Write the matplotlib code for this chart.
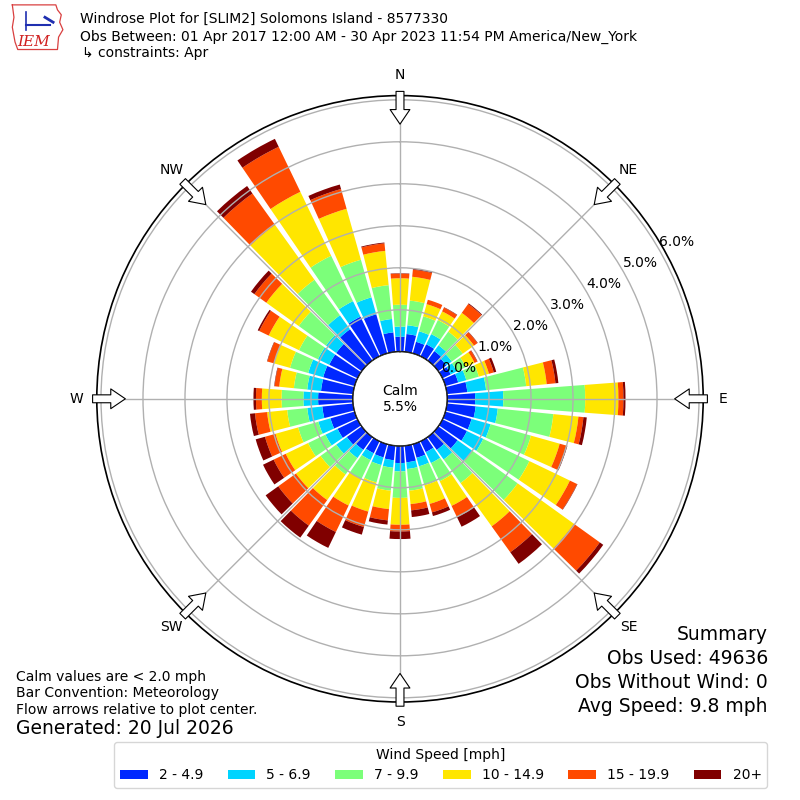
import numpy as np
import matplotlib
matplotlib.use("Agg")
import matplotlib.pyplot as plt
from matplotlib.patches import Patch

# ---------------- data (percent of observations) ----------------
directions = np.arange(0, 360, 10)
speed_labels = ["2 - 4.9", "5 - 6.9", "7 - 9.9", "10 - 14.9", "15 - 19.9", "20+"]
colors = ["#0028ff", "#00d4ff", "#7cff7a", "#ffe600", "#ff4a00", "#800000"]

pct_2_5 = [0.36, 0.43, 0.29, 0.32, 0.28, 0.24, 0.22, 0.32, 0.49, 0.67, 0.69, 0.65,
           0.65, 0.57, 0.38, 0.29, 0.34, 0.40, 0.41, 0.35, 0.33, 0.32, 0.38, 0.44,
           0.53, 0.60, 0.74, 0.83, 0.77, 0.78, 0.75, 0.75, 0.92, 1.05, 0.97, 0.47]
pct_5_7 = [0.24, 0.21, 0.26, 0.27, 0.17, 0.16, 0.16, 0.20, 0.45, 0.67, 0.53, 0.47,
           0.43, 0.43, 0.28, 0.29, 0.21, 0.16, 0.20, 0.18, 0.19, 0.18, 0.24, 0.31,
           0.32, 0.30, 0.36, 0.35, 0.33, 0.37, 0.30, 0.30, 0.41, 0.41, 0.42, 0.32]
pct_7_10 = [0.52, 0.59, 0.37, 0.37, 0.40, 0.32, 0.24, 0.31, 0.96, 1.95, 1.33, 1.00,
            1.22, 1.33, 0.69, 0.48, 0.47, 0.52, 0.63, 0.55, 0.43, 0.50, 0.48, 0.46,
            0.46, 0.50, 0.48, 0.52, 0.32, 0.45, 0.50, 0.80, 1.04, 1.20, 0.93, 0.81]
pct_10_15 = [0.63, 0.57, 0.30, 0.23, 0.55, 0.33, 0.23, 0.25, 0.49, 0.79, 0.60, 0.71,
             1.07, 1.65, 1.27, 0.65, 0.46, 0.32, 0.64, 0.44, 0.72, 0.70, 0.75, 0.72,
             0.59, 0.56, 0.48, 0.47, 0.35, 0.40, 0.80, 0.95, 1.61, 1.69, 1.26, 0.82]
pct_15_20 = [0.11, 0.17, 0.11, 0.10, 0.26, 0.10, 0.07, 0.12, 0.21, 0.12, 0.12, 0.17,
             0.19, 0.76, 0.76, 0.30, 0.21, 0.15, 0.16, 0.27, 0.38, 0.70, 0.75, 0.52,
             0.32, 0.26, 0.29, 0.14, 0.11, 0.16, 0.25, 0.35, 0.92, 1.19, 0.49, 0.18]
pct_20_up = [0.01, 0.02, 0.00, 0.01, 0.02, 0.01, 0.01, 0.06, 0.07, 0.05, 0.08, 0.02,
             0.01, 0.10, 0.34, 0.25, 0.09, 0.16, 0.18, 0.10, 0.19, 0.42, 0.35, 0.37,
             0.28, 0.23, 0.12, 0.06, 0.01, 0.01, 0.04, 0.10, 0.22, 0.21, 0.11, 0.02]
series = [pct_2_5, pct_5_7, pct_7_10, pct_10_15, pct_15_20, pct_20_up]

calm_pct = 5.5
radial_ticks = [0, 1, 2, 3, 4, 5, 6]
compass_angles = [0, 45, 90, 135, 180, 225, 270, 315]
compass_labels = ["N", "NE", "E", "SE", "S", "SW", "W", "NW"]

# ---------------- figure ----------------
fig = plt.figure(figsize=(8, 8), dpi=100)
ax = fig.add_axes([0.121, 0.1225, 0.758, 0.758], projection="polar")
ax.set_theta_zero_location("N")
ax.set_theta_direction(-1)

theta = np.deg2rad(directions)
bottom = np.zeros(len(directions))
for vals, col, lab in zip(series, colors, speed_labels):
    vals = np.asarray(vals)
    ax.bar(theta, vals, width=np.deg2rad(8.6), bottom=bottom, color=col,
           label=lab, linewidth=0, zorder=1)
    bottom = bottom + vals

ax.set_ylim(0, 6.1)
ax.set_rorigin(-1.12)
ax.set_axisbelow(False)
ax.set_yticks(radial_ticks)
ax.set_yticklabels([f"{v:.1f}%" for v in radial_ticks], fontsize=10)
ax.set_rlabel_position(60)
ax.set_xticks(np.deg2rad(compass_angles))
ax.set_xticklabels(compass_labels, fontsize=10)
ax.tick_params(axis="x", pad=4)
ax.grid(True, color="#b0b0b0", linewidth=1)
ax.spines["polar"].set_linewidth(1.2)

# calm circle edge
circ = np.linspace(0, 2 * np.pi, 400)
ax.plot(circ, np.zeros_like(circ), color="black", linewidth=1.2, zorder=4)
ax.text(0, -1.12, f"Calm\n{calm_pct:.1f}%", ha="center", va="center",
        fontsize=10, zorder=5)

# flow arrows pointing toward the center
for ang in compass_angles:
    ax.annotate("", xy=(np.deg2rad(ang), 5.42), xytext=(np.deg2rad(ang), 6.2),
                arrowprops=dict(arrowstyle="simple,head_length=0.7,head_width=0.95,tail_width=0.38",
                                fc="white", ec="black", lw=0.8, shrinkA=0, shrinkB=0,
                                mutation_scale=15),
                annotation_clip=False, zorder=6)

# ---------------- texts ----------------
fig.text(0.1, 1 - 19 / 800, "Windrose Plot for [SLIM2] Solomons Island - 8577330",
         fontsize=10, va="center", ha="left")
fig.text(0.1, 1 - 37 / 800,
         "Obs Between: 01 Apr 2017 12:00 AM - 30 Apr 2023 11:54 PM America/New_York",
         fontsize=10, va="center", ha="left")
fig.text(0.103, 1 - 53 / 800, "\u21b3 constraints: Apr", fontsize=10, va="center",
         ha="left")

fig.text(0.02, 1 - 677 / 800, "Calm values are < 2.0 mph", fontsize=10, va="center")
fig.text(0.02, 1 - 693 / 800, "Bar Convention: Meteorology", fontsize=10, va="center")
fig.text(0.02, 1 - 710 / 800, "Flow arrows relative to plot center.", fontsize=10,
         va="center")
fig.text(0.02, 1 - 729 / 800, "Generated: 20 Jul 2026", fontsize=13.5, va="center")

summary = ["Summary", "Obs Used: 49636", "Obs Without Wind: 0", "Avg Speed: 9.8 mph"]
for i, line in enumerate(summary):
    fig.text(0.96, 1 - (635 + 23.7 * i) / 800, line, fontsize=13.5, ha="right",
             va="center")

# ---------------- logo ----------------
lax = fig.add_axes([0.012, 0.935, 0.068, 0.062])
lax.set_xlim(0, 1)
lax.set_ylim(0, 1)
lax.axis("off")
outline_x = [0.05, 0.85, 0.88, 0.95, 0.92, 0.98, 0.9, 0.88, 0.15, 0.1, 0.05, 0.08, 0.05]
outline_y = [0.95, 0.95, 0.85, 0.75, 0.6, 0.45, 0.3, 0.05, 0.05, 0.2, 0.5, 0.7, 0.95]
lax.plot(outline_x, outline_y, color="#d94040", lw=0.9)
lax.plot([0.3, 0.75], [0.55, 0.55], color="#1f2fb0", lw=1.5)
lax.plot([0.3, 0.3], [0.45, 0.8], color="#1f2fb0", lw=1.2)
lax.plot([0.65, 0.8], [0.7, 0.6], color="#1f2fb0", lw=2)
lax.text(0.45, 0.2, "IEM", color="#d02020", fontsize=11, fontstyle="italic",
         family="DejaVu Serif", ha="center", va="center")

# ---------------- legend ----------------
handles = [Patch(facecolor=c, edgecolor="none") for c in colors]
leg = fig.legend(handles, speed_labels, ncol=6, loc="center",
                 bbox_to_anchor=(0.551, 1 - 765 / 800), title="Wind Speed [mph]",
                 fontsize=10, title_fontsize=10, frameon=True, handlelength=2.0,
                 columnspacing=1.75)
leg.get_frame().set_edgecolor("#cccccc")

fig.savefig("out.png", dpi=100)
